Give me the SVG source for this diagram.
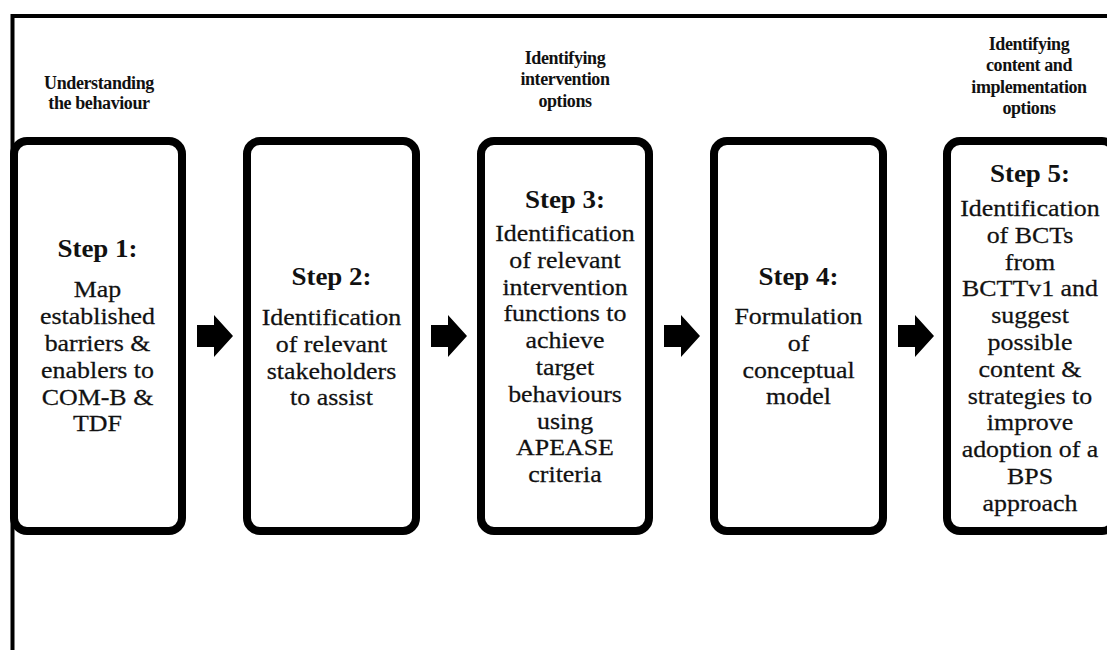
<svg xmlns="http://www.w3.org/2000/svg" width="1107" height="650" viewBox="0 0 1107 650">
  <style>
    .frame { fill: none; stroke: #000; stroke-width: 4; }
    .box { fill: #fff; stroke: #000; stroke-width: 8; }
    .arrow { fill: #000; }
    text { font-family: 'Liberation Serif', 'DejaVu Serif', serif; text-anchor: middle; fill: #111; }
    .phase { font-size: 18px; font-weight: bold; letter-spacing: -0.4px; }
    .title { font-size: 25px; font-weight: bold; }
    .body { font-size: 24px; stroke: #111; stroke-width: 0.25; }
  </style>

  <rect width="1107" height="650" fill="#fff"/>

  <!-- outer frame (top and left edges) -->
  <path class="frame" d="M12.5 650 V16 H1107"/>

  <!-- phase headings -->
  <g id="phase-understanding">
    <text class="phase" x="99" y="89">Understanding</text>
    <text class="phase" x="99" y="109">the behaviour</text>
  </g>
  <g id="phase-intervention">
    <text class="phase" x="565" y="64">Identifying</text>
    <text class="phase" x="565" y="85">intervention</text>
    <text class="phase" x="565" y="107">options</text>
  </g>
  <g id="phase-content">
    <text class="phase" x="1029" y="50">Identifying</text>
    <text class="phase" x="1029" y="71">content and</text>
    <text class="phase" x="1029" y="93">implementation</text>
    <text class="phase" x="1029" y="114">options</text>
  </g>

  <!-- step boxes -->
  <g id="step1">
    <rect class="box" x="14" y="141" width="168" height="390" rx="13"/>
    <g transform="translate(97.5 0) scale(1.08 1)">
      <text class="title" x="0" y="257">Step 1:</text>
      <text class="body" x="0" y="297.5">Map</text>
      <text class="body" x="0" y="324.3">established</text>
      <text class="body" x="0" y="351.1">barriers &amp;</text>
      <text class="body" x="0" y="377.9">enablers to</text>
      <text class="body" x="0" y="404.7">COM-B &amp;</text>
      <text class="body" x="0" y="431.5">TDF</text>
    </g>
  </g>

  <g id="step2">
    <rect class="box" x="247" y="141" width="169" height="390" rx="13"/>
    <g transform="translate(331.5 0) scale(1.08 1)">
      <text class="title" x="0" y="285">Step 2:</text>
      <text class="body" x="0" y="325">Identification</text>
      <text class="body" x="0" y="351.8">of relevant</text>
      <text class="body" x="0" y="378.6">stakeholders</text>
      <text class="body" x="0" y="405.4">to assist</text>
    </g>
  </g>

  <g id="step3">
    <rect class="box" x="481" y="141" width="168" height="390" rx="13"/>
    <g transform="translate(565 0) scale(1.08 1)">
      <text class="title" x="0" y="208">Step 3:</text>
      <text class="body" x="0" y="241">Identification</text>
      <text class="body" x="0" y="267.8">of relevant</text>
      <text class="body" x="0" y="294.6">intervention</text>
      <text class="body" x="0" y="321.4">functions  to</text>
      <text class="body" x="0" y="348.2">achieve</text>
      <text class="body" x="0" y="375">target</text>
      <text class="body" x="0" y="401.8">behaviours</text>
      <text class="body" x="0" y="428.6">using</text>
      <text class="body" x="0" y="455.4">APEASE</text>
      <text class="body" x="0" y="482.2">criteria</text>
    </g>
  </g>

  <g id="step4">
    <rect class="box" x="714" y="141" width="169" height="390" rx="13"/>
    <g transform="translate(798.5 0) scale(1.08 1)">
      <text class="title" x="0" y="285">Step 4:</text>
      <text class="body" x="0" y="324">Formulation</text>
      <text class="body" x="0" y="350.8">of</text>
      <text class="body" x="0" y="377.6">conceptual</text>
      <text class="body" x="0" y="404.4">model</text>
    </g>
  </g>

  <g id="step5">
    <rect class="box" x="947" y="141" width="168" height="390" rx="13"/>
    <g transform="translate(1030 0) scale(1.08 1)">
      <text class="title" x="0" y="182">Step 5:</text>
      <text class="body" x="0" y="216">Identification</text>
      <text class="body" x="0" y="242.8">of BCTs</text>
      <text class="body" x="0" y="269.6">from</text>
      <text class="body" x="0" y="296.4">BCTTv1  and</text>
      <text class="body" x="0" y="323.2">suggest</text>
      <text class="body" x="0" y="350">possible</text>
      <text class="body" x="0" y="376.8">content  &amp;</text>
      <text class="body" x="0" y="403.6">strategies to</text>
      <text class="body" x="0" y="430.4">improve</text>
      <text class="body" x="0" y="457.2">adoption  of a</text>
      <text class="body" x="0" y="484">BPS</text>
      <text class="body" x="0" y="510.8">approach</text>
    </g>
  </g>

  <!-- block arrows between steps -->
  <g id="connectors">
    <defs>
      <path id="blockArrow" d="M0 -11 H17 V-21 L36 0 L17 21 V11 H0 Z"/>
    </defs>
    <use href="#blockArrow" class="arrow" x="197" y="336"/>
    <use href="#blockArrow" class="arrow" x="431" y="336"/>
    <use href="#blockArrow" class="arrow" x="664" y="336"/>
    <use href="#blockArrow" class="arrow" x="898" y="336"/>
  </g>
</svg>
